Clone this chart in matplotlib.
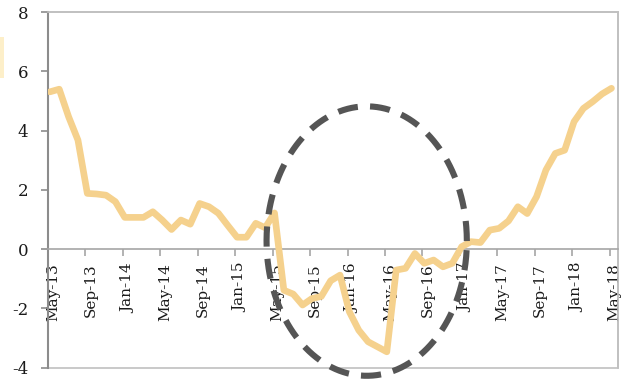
import matplotlib.pyplot as plt
import numpy as np
from matplotlib.patches import Rectangle
from matplotlib.transforms import ScaledTranslation

# monthly values, May-13 .. May-18
values = [5.31, 5.40, 4.47, 3.68, 1.88, 1.86, 1.82, 1.60, 1.07, 1.07,
          1.07, 1.26, 0.98, 0.66, 0.98, 0.84, 1.54, 1.43, 1.21, 0.80,
          0.40, 0.40, 0.87, 0.72, 1.22, -1.39, -1.52, -1.89, -1.67, -1.60,
          -1.07, -0.88, -2.12, -2.74, -3.13, -3.30, -3.47, -0.71, -0.65, -0.15,
          -0.48, -0.37, -0.60, -0.48, 0.08, 0.25, 0.22, 0.64, 0.70, 0.95,
          1.43, 1.20, 1.77, 2.67, 3.23, 3.34, 4.30, 4.75, 4.98, 5.24,
          5.43]
tick_labels = ['May-13', 'Sep-13', 'Jan-14', 'May-14', 'Sep-14', 'Jan-15',
               'May-15', 'Sep-15', 'Jan-16', 'May-16', 'Sep-16', 'Jan-17',
               'May-17', 'Sep-17', 'Jan-18', 'May-18']
yticks = [-4, -2, 0, 2, 4, 6, 8]

# dashed ring around the 2015-16 dip (months since May-13, value)
ring_center = (34.05, 0.27)
ring_w = 21.4
ring_h = 9.1

months = np.arange(len(values)) + 0.2

fig = plt.figure(figsize=(6.36, 3.79), dpi=100)
ax = fig.add_axes([48/636, 11.5/379, 570/636, 355.3/379])

ax.plot(months, values, color='#F5D18D', lw=4.8, solid_capstyle='round',
        solid_joinstyle='round', zorder=3)

t = np.linspace(0, 2 * np.pi, 600)
ring_x = ring_center[0] + ring_w / 2 * np.cos(t)
ring_y = ring_center[1] + ring_h / 2 * np.sin(t)
ring, = ax.plot(ring_x, ring_y, color='#555555', lw=4.4, clip_on=False,
                dash_capstyle='butt', zorder=4)
ring.set_dashes([3.3, 2.0])

ax.set_xlim(0, 60.9)
ax.set_ylim(-4, 8)

# box around the plot area
for s in ['top', 'right']:
    ax.spines[s].set_color('#C0C0C0')
    ax.spines[s].set_linewidth(1.2)
ax.spines['left'].set_color('#8C8C8C')
ax.spines['left'].set_linewidth(1.5)
ax.spines['bottom'].set_position(('data', 0))
ax.spines['bottom'].set_color('#A6A6A6')
ax.spines['bottom'].set_linewidth(1.2)
ax.add_patch(Rectangle((0, 0), 1, 1, transform=ax.transAxes, fill=False,
                       edgecolor='#C0C0C0', lw=1.2, clip_on=False, zorder=1))

ax.set_yticks(yticks)
ax.set_yticklabels([str(v) for v in yticks])
ax.set_xticks(np.arange(0, 61, 4))
ax.set_xticklabels(tick_labels, rotation=90, va='top', ha='center')

ax.tick_params(axis='y', length=5, width=1.2, color='#8C8C8C', pad=9,
               labelsize=12, labelcolor='#1a1a1a')
ax.tick_params(axis='x', length=5, width=1.2, color='#A6A6A6', pad=5,
               labelsize=11, labelcolor='#1a1a1a')
for lab in ax.get_xticklabels() + ax.get_yticklabels():
    lab.set_fontfamily('DejaVu Serif')
for lab in ax.get_xticklabels():
    lab.set_transform(lab.get_transform() + ScaledTranslation(5/100, 0, fig.dpi_scale_trans))

# scrap of legend swatch at the left edge
fig.patches.append(Rectangle((0, 1 - 78/379), 4/636, 41/379, transform=fig.transFigure,
                             facecolor='#FDEFC9', edgecolor='none'))

fig.savefig('out.png', dpi=100)
